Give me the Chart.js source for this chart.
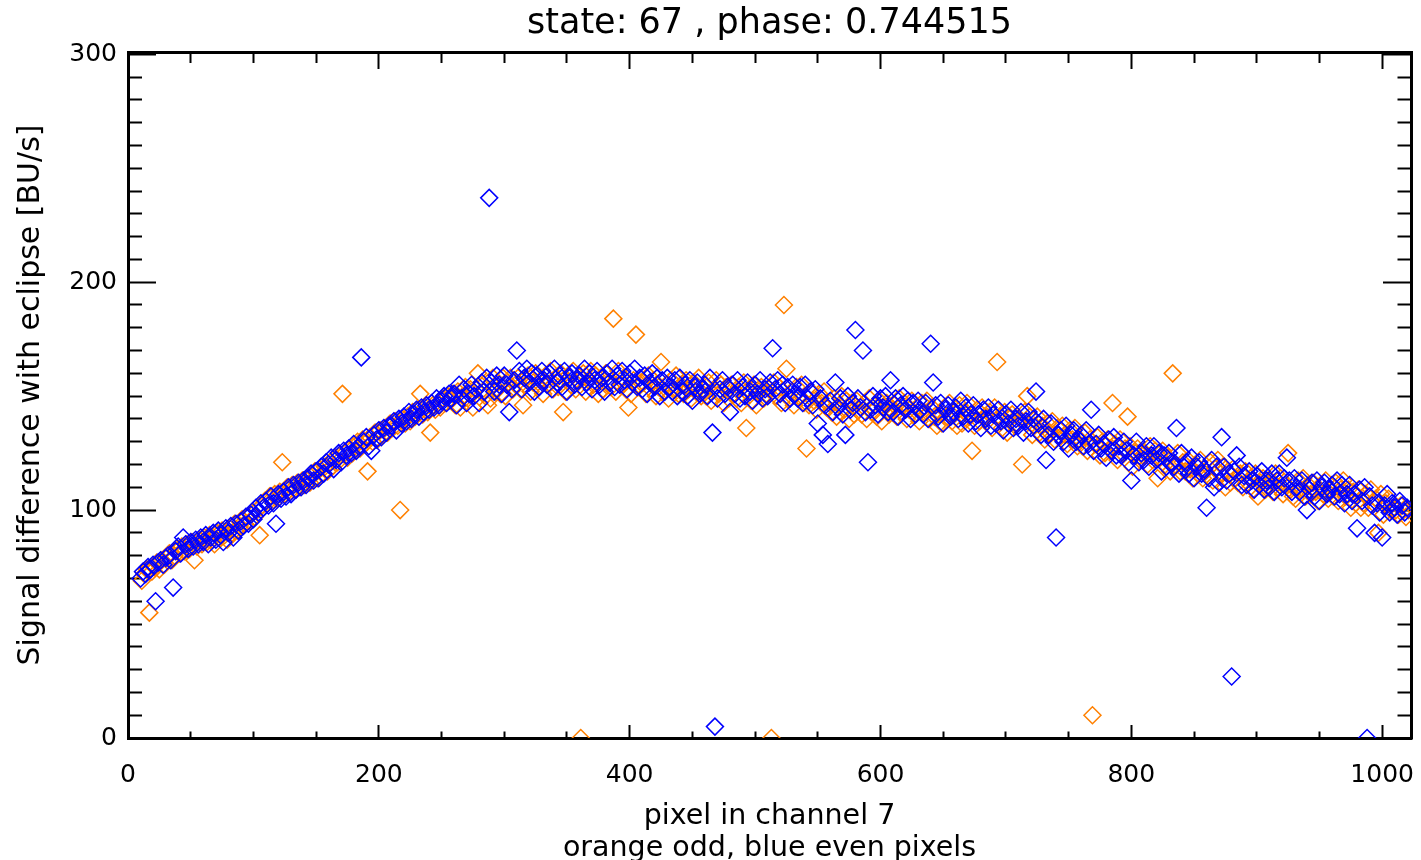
<!DOCTYPE html>
<html>
<head>
<meta charset="utf-8">
<script src="https://cdn.jsdelivr.net/npm/chart.js@4/dist/chart.umd.min.js"></script>
<style>
  html, body { margin: 0; padding: 0; background: #ffffff; }
  #wrap { width: 1421px; height: 860px; }
</style>
</head>
<body>
<div id="wrap"><canvas id="c" width="1421" height="860"></canvas></div>
<script>
// ---------------- data ----------------
const chartTitle = 'state: 67 , phase: 0.744515';
const xAxisTitle = ['pixel in channel 7', 'orange odd, blue even pixels'];
const yAxisTitle = 'Signal difference with eclipse [BU/s]';
const xTickLabels = [0, 200, 400, 600, 800, 1000];
const yTickLabels = [0, 100, 200, 300];

// first pixel of each series; consecutive values belong to every second pixel
const firstEvenPixel = 10;
const firstOddPixel = 11;

// blue: even pixels (10, 12, 14, ...)
const evenPixelSignal = [
  70,73,72,75,74,76,60,77,78,76,79,80,78,66,82,84,81,88,85,83,86,84,87,85,88,
  86,89,85,88,90,87,91,89,86,92,90,93,88,94,91,95,93,97,94,98,96,101,99,103,101,
  104,102,106,103,94,107,105,108,106,110,107,111,109,112,110,113,111,114,116,113,117,114,119,116,121,
  120,123,118,122,125,121,126,124,127,125,129,126,128,167,130,132,128,126,133,131,135,132,136,134,137,
  137,139,135,140,138,141,139,143,140,142,144,141,145,143,146,144,147,145,149,146,148,150,147,151,149,
  151,146,155,149,153,147,151,155,150,153,147,156,152,158,237,156,152,159,155,151,159,155,143,153,157,
  170,161,153,158,162,156,160,152,159,154,161,157,155,160,153,162,156,159,154,161,152,158,160,155,157,
  159,154,162,156,160,153,157,161,155,158,152,160,156,162,154,159,155,161,157,153,160,156,162,154,158,
  153,159,151,156,160,154,158,150,157,152,158,154,152,157,150,158,152,155,150,157,148,154,156,151,153,
  155,150,158,134,5,149,153,157,151,154,143,155,151,157,149,154,150,156,152,148,155,151,157,149,153,
  150,156,171,153,157,151,155,147,154,149,155,151,149,154,147,155,149,152,146,153,138,149,133,146,129,
  148,143,156,145,149,142,133,150,144,147,179,149,145,170,143,121,144,150,146,142,149,145,150,143,157,
  143,149,141,146,150,144,148,140,147,142,148,144,142,147,140,173,156,146,141,147,138,144,146,141,143,
  145,140,148,141,145,138,142,146,139,142,136,144,140,145,137,142,138,144,139,135,142,138,144,136,140,
  137,143,134,139,143,136,140,152,138,133,140,122,133,138,130,88,133,135,130,137,127,133,135,130,131,
  133,128,135,129,144,126,129,133,127,129,123,131,126,132,124,128,124,130,126,121,113,124,130,121,125,
  122,128,119,124,128,122,125,117,124,119,125,121,119,136,116,125,119,121,116,123,114,119,121,116,118,
  101,114,122,110,119,112,132,119,113,116,27,117,124,119,111,115,111,117,113,109,115,111,117,109,113,
  110,116,108,113,116,110,114,123,113,108,114,110,108,113,106,100,109,112,106,113,104,110,112,107,109,
  111,106,113,107,111,103,107,111,104,107,92,109,104,110,0,106,102,90,103,99,88,102,107,99,103,
  101,98,104,102,99,101
];

// orange: odd pixels (11, 13, 15, ...)
const oddPixelSignal = [
  69,72,74,55,73,75,77,74,78,76,79,81,78,80,83,81,84,82,85,83,86,78,84,87,85,
  88,86,89,87,85,90,88,91,89,87,92,90,94,91,93,96,94,97,95,99,97,100,89,102,104,
  103,106,104,107,105,108,121,107,110,108,111,109,112,110,113,111,114,112,115,117,114,118,116,119,117,
  121,119,123,121,124,151,125,123,127,125,128,130,127,131,129,117,132,130,134,131,135,133,136,134,138,
  136,139,137,100,140,138,141,139,143,141,144,151,142,145,143,134,146,144,147,145,149,147,150,148,151,
  146,152,145,150,154,149,153,145,153,160,155,152,150,146,149,158,152,156,151,158,150,156,158,153,155,
  158,153,146,155,159,152,156,160,154,157,151,159,155,161,153,158,154,160,143,152,159,155,161,153,157,
  0,160,152,157,161,155,159,151,158,153,160,156,154,184,152,161,155,158,153,145,151,157,177,154,156,
  156,151,159,153,157,150,154,165,152,155,149,157,153,159,151,155,151,157,153,149,156,152,158,150,153,
  150,156,148,153,157,151,155,147,154,149,155,151,149,154,147,156,136,153,148,155,146,152,154,149,151,
  153,0,156,150,154,147,190,162,149,152,146,154,150,155,147,127,146,152,148,144,151,147,152,145,147,
  143,149,141,146,150,144,148,140,147,142,148,144,142,147,140,149,143,146,141,148,139,145,147,142,144,
  146,141,149,143,147,140,144,148,142,145,139,147,143,148,140,145,141,137,142,138,145,141,147,139,143,
  137,146,138,143,147,141,126,137,144,139,145,141,139,143,136,145,165,141,136,143,134,140,142,137,138,
  140,120,143,150,141,133,137,141,134,137,131,138,134,139,131,136,132,137,133,129,135,131,136,128,131,
  128,134,126,131,10,129,132,124,130,125,131,127,147,129,122,131,125,127,141,128,119,125,127,122,124,
  125,120,128,122,126,114,123,126,120,123,117,160,120,125,117,121,117,122,118,114,120,116,122,114,117,
  115,121,113,118,122,116,119,110,117,112,118,114,112,116,110,117,112,114,109,116,106,112,114,109,111,
  113,108,116,110,114,107,111,125,109,106,105,113,109,114,106,111,107,112,108,104,111,107,113,105,109,
  106,112,104,109,113,106,109,101,108,103,109,101,103,107,101,109,103,105,90,107,98,103,105,100,101,
  100,98,102,100,97,100
];

// ---------------- chart ----------------
const FONT = "'DejaVu Sans', 'Liberation Sans', sans-serif";
const BLACK = '#000000';

function toPoints(firstPixel, values) {
  return values.map((v, i) => ({ x: firstPixel + 2 * i, y: v }));
}
const keepMultiples = step => scale => {
  scale.ticks = scale.ticks.filter(t => Math.abs(t.value % step) < 1e-6);
};
const fixSize = (w, h) => scale => {
  if (w !== null) scale.width = w;
  if (h !== null) scale.height = h;
  scale.paddingLeft = 0; scale.paddingRight = 0;
  scale.paddingTop = 0; scale.paddingBottom = 0;
};
const isMajor = (ctx, step) => ctx.tick && Math.abs(ctx.tick.value % step) < 1e-6;

function axis(extra) {
  return Object.assign({
    type: 'linear',
    border: { display: true, width: 3, color: BLACK },
  }, extra);
}

new Chart(document.getElementById('c'), {
  type: 'scatter',
  data: {
    datasets: [
      {
        label: 'even pixels',
        data: toPoints(firstEvenPixel, evenPixelSignal),
        xAxisID: 'x', yAxisID: 'y',
        pointStyle: 'rectRot', pointRadius: 8.5, pointHoverRadius: 8.5,
        pointBorderColor: '#0000FF', pointBackgroundColor: 'rgba(0,0,0,0)',
        pointBorderWidth: 1.5, showLine: false, clip: 0
      },
      {
        label: 'odd pixels',
        data: toPoints(firstOddPixel, oddPixelSignal),
        xAxisID: 'x', yAxisID: 'y',
        pointStyle: 'rectRot', pointRadius: 8.5, pointHoverRadius: 8.5,
        pointBorderColor: '#FF8000', pointBackgroundColor: 'rgba(0,0,0,0)',
        pointBorderWidth: 1.5, showLine: false, clip: 0
      }
    ]
  },
  options: {
    responsive: false,
    animation: false,
    devicePixelRatio: 1,
    layout: { padding: 0 },
    plugins: { legend: { display: false }, tooltip: { enabled: false }, title: { display: false } },
    events: [],
    scales: {
      x: axis({
        position: 'bottom', min: 0, max: 1023,
        afterFit: fixSize(null, 122),
        afterBuildTicks: keepMultiples(50),
        ticks: {
          stepSize: 50, maxTicksLimit: 1000, includeBounds: false, autoSkip: false, maxRotation: 0, padding: 35,
          color: BLACK, font: { family: FONT, size: 25 },
          callback: v => xTickLabels.includes(v) ? String(v) : ''
        },
        grid: {
          drawOnChartArea: false, drawTicks: true, tickLength: -13, tickWidth: 2, tickColor: BLACK,
          tickBorderDash: c => isMajor(c, 200) ? [] : [8.5, 100]
        },
        title: {
          display: true, text: xAxisTitle, color: BLACK,
          font: { family: FONT, size: 28.5, lineHeight: '32px' },
          padding: { top: 0, bottom: -5 }
        }
      }),
      x2: axis({
        position: 'top', min: 0, max: 1023,
        afterFit: fixSize(null, 52),
        afterBuildTicks: keepMultiples(50),
        ticks: { display: false, stepSize: 50, maxTicksLimit: 1000, includeBounds: false, autoSkip: false },
        grid: {
          drawOnChartArea: false, drawTicks: true, tickLength: -17, tickWidth: 2, tickColor: BLACK,
          tickBorderDash: c => isMajor(c, 200) ? [] : [0, 6, 100]
        },
        title: {
          display: true, text: chartTitle, color: BLACK,
          font: { family: FONT, size: 35 },
          padding: { top: 2.5, bottom: 0 }
        }
      }),
      y: axis({
        position: 'left', min: 0, max: 301,
        afterFit: fixSize(128, null),
        afterBuildTicks: keepMultiples(10),
        ticks: {
          stepSize: 10, maxTicksLimit: 1000, includeBounds: false, autoSkip: false, padding: 39,
          color: BLACK, font: { family: FONT, size: 25 },
          callback: v => yTickLabels.includes(v) ? String(v) : ''
        },
        grid: {
          drawOnChartArea: false, drawTicks: true, tickLength: -28, tickWidth: 2, tickColor: BLACK,
          tickBorderDash: c => isMajor(c, 100) ? [] : [0, 14, 100]
        },
        title: {
          display: true, text: yAxisTitle, color: BLACK,
          font: { family: FONT, size: 30 },
          padding: { top: 13, bottom: 0 }
        }
      }),
      y2: axis({
        position: 'right', min: 0, max: 301,
        afterFit: fixSize(10, null),
        afterBuildTicks: keepMultiples(10),
        ticks: { display: false, stepSize: 10, maxTicksLimit: 1000, includeBounds: false, autoSkip: false },
        grid: {
          drawOnChartArea: false, drawTicks: true, tickLength: -28, tickWidth: 2, tickColor: BLACK,
          tickBorderDash: c => isMajor(c, 100) ? [] : [15.5, 100]
        }
      })
    }
  }
});
</script>
</body>
</html>
